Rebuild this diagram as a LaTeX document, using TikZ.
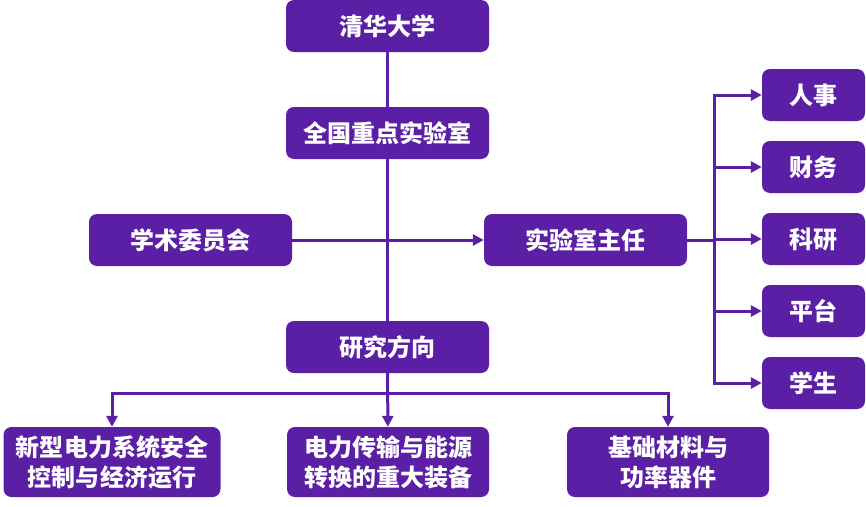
\documentclass[tikz,border=0pt]{standalone}
\usepackage{fontspec}
\newfontfamily\cjk{Noto Sans CJK SC}
\usetikzlibrary{arrows.meta}
\definecolor{labpurple}{HTML}{5B1FA6}
\tikzset{
	unit/.style={fill=labpurple, rounded corners=8pt, text=white, align=center, inner sep=0pt,
		font=\cjk\bfseries\fontsize{24}{30}\selectfont},
	wide/.style={unit, minimum width=203pt, minimum height=52pt},
	small/.style={unit, minimum width=103pt, minimum height=52pt},
	tall/.style={unit, minimum width=202pt, minimum height=70pt},
	link/.style={labpurple, line width=3pt},
	arr/.style={link, -{Triangle[length=11pt,width=11pt]}}
}
\begin{document}
\begin{tikzpicture}[x=1pt,y=-1pt]
		\useasboundingbox (0,0) rectangle (866,506);
		\node[wide] (thu) at (387.5,26) {清华大学};
		\node[wide] (lab) at (387.5,133) {全国重点实验室};
		\node[wide] (council) at (190.5,240) {学术委员会};
		\node[wide] (director) at (585.5,240) {实验室主任};
		\node[wide] (direction) at (387.5,347) {研究方向};
		\node[small] (staff) at (813.5,95) {人事};
		\node[small] (finance) at (813.5,167) {财务};
		\node[small] (research) at (813.5,239) {科研};
		\node[small] (platform) at (813.5,311) {平台};
		\node[small] (student) at (813.5,383) {学生};
		\node[tall, minimum width=217pt] (power) at (112,462) {新型电力系统安全\\控制与经济运行};
		\node[tall] (transm) at (388,462) {电力传输与能源\\转换的重大装备};
		\node[tall] (material) at (668,462) {基础材料与\\功率器件};
		\coordinate (hub) at (714,240);
		\coordinate (bus) at (388,393);
		\draw[link] (thu) -- (lab);
		\draw[link] (lab) -- (direction);
		\draw[arr] (council) -- (director);
		\draw[link] (director) -- (hub);
		\foreach \b in {staff,finance,research,platform,student}
			\draw[arr] (hub) |- (\b);
		\draw[arr] (direction) -- (transm);
		\draw[arr] (bus) -| (power);
		\draw[arr] (bus) -| (material);
	\end{tikzpicture}
\end{document}
